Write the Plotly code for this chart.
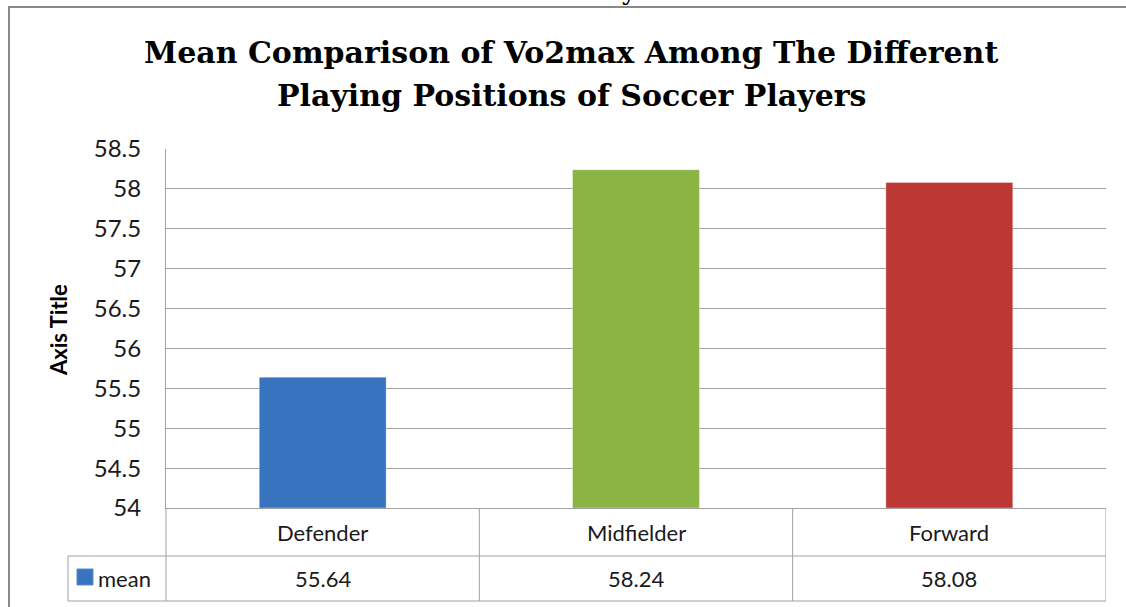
import plotly.graph_objects as go

# ---- data ----
categories = ["Defender", "Midfielder", "Forward"]
mean_values = [55.64, 58.24, 58.08]
series_name = "mean"
y_tick_values = [54, 54.5, 55, 55.5, 56, 56.5, 57, 57.5, 58, 58.5]
y_tick_labels = ["54", "54.5", "55", "55.5", "56", "56.5", "57", "57.5", "58", "58.5"]
title_line1 = "Mean Comparison of Vo2max Among The Different"
title_line2 = "Playing Positions of Soccer Players"
cut_title = "Soccer Players"
axis_title = "Axis Title"

bar_colors = ["#3873C0", "#8BB444", "#BD3735"]

# ---- layout geometry (pixels) ----
FIG_W, FIG_H = 1126, 607
L, R, T, B = 166, 1106, 149, 508
W, H = R - L, B - T


def px(x):
    return (x - L) / W


def py(y):
    return (B - y) / H


LINE = "#A0A0A0"
TXT = "#1A1A1A"
FONT = "Lato"

fig = go.Figure()
fig.add_trace(go.Bar(
    x=categories,
    y=[v - 54 for v in mean_values],
    base=54,
    width=0.405,
    marker=dict(color=bar_colors, line=dict(color="rgba(255,255,255,0.35)", width=1)),
    name=series_name,
    hoverinfo="x+text",
    text=[f"{v:.2f}" for v in mean_values],
    textposition="none",
    showlegend=False,
))

shapes = []
# table lines
for yy in (556, 601):
    shapes.append(dict(type="line", xref="paper", yref="paper",
                       x0=px(68), x1=px(R), y0=py(yy), y1=py(yy),
                       line=dict(color=LINE, width=1)))
shapes.append(dict(type="line", xref="paper", yref="paper",
                   x0=px(68), x1=px(68), y0=py(556), y1=py(601),
                   line=dict(color=LINE, width=1)))
shapes.append(dict(type="line", xref="paper", yref="paper",
                   x0=0, x1=0, y0=py(B), y1=py(601),
                   line=dict(color=LINE, width=1)))
for i in range(len(categories)):
    shapes.append(dict(type="line", xref="x", yref="paper",
                       x0=i + 0.5, x1=i + 0.5, y0=py(B), y1=py(601),
                       line=dict(color=LINE, width=1)))
# legend key
shapes.append(dict(type="rect", xref="paper", yref="paper",
                   x0=px(77), x1=px(93), y0=py(569), y1=py(585),
                   fillcolor=bar_colors[0], line=dict(color="#5B8BCF", width=1)))
# outer chart border (top and left)
shapes.append(dict(type="line", xref="paper", yref="paper",
                   x0=px(8), x1=px(1130), y0=py(7), y1=py(7),
                   line=dict(color="#898989", width=2)))
shapes.append(dict(type="line", xref="paper", yref="paper",
                   x0=px(9), x1=px(9), y0=py(7), y1=py(612),
                   line=dict(color="#898989", width=2)))

annotations = []
for c, v in zip(categories, mean_values):
    annotations.append(dict(x=c, xref="x", y=py(532), yref="paper", text=c,
                            showarrow=False, xanchor="center", yanchor="middle",
                            font=dict(family=FONT, size=22, color=TXT)))
    annotations.append(dict(x=c, xref="x", y=py(578), yref="paper", text=f"{v:.2f}",
                            showarrow=False, xanchor="center", yanchor="middle",
                            font=dict(family=FONT, size=22, color=TXT)))
annotations.append(dict(x=px(96), xref="paper", y=py(578), yref="paper", text=series_name,
                        showarrow=False, xanchor="left", yanchor="middle",
                        font=dict(family=FONT, size=22, color=TXT)))
annotations.append(dict(x=px(58), xref="paper", y=py(330), yref="paper", text=f"<b>{axis_title}</b>",
                        showarrow=False, xanchor="center", yanchor="middle", textangle=-90,
                        font=dict(family=FONT, size=22, color="#000000")))
annotations.append(dict(x=px(571), xref="paper", y=py(52), yref="paper", text=f"<b>{title_line1}</b>",
                        showarrow=False, xanchor="center", yanchor="middle",
                        font=dict(family="DejaVu Serif", size=30, color="#000000")))
annotations.append(dict(x=px(571), xref="paper", y=py(95), yref="paper", text=f"<b>{title_line2}</b>",
                        showarrow=False, xanchor="center", yanchor="middle",
                        font=dict(family="DejaVu Serif", size=30, color="#000000")))
annotations.append(dict(x=px(580), xref="paper", y=py(8), yref="paper", text=cut_title,
                        showarrow=False, xanchor="center", yanchor="bottom",
                        font=dict(family="DejaVu Serif", size=26, color="#000000")))

fig.update_layout(
    width=FIG_W, height=FIG_H,
    margin=dict(l=L, r=FIG_W - R, t=T, b=FIG_H - B, pad=0),
    paper_bgcolor="white", plot_bgcolor="white",
    bargap=0.595,
    shapes=shapes, annotations=annotations,
    xaxis=dict(range=[-0.5, 2.5], showticklabels=False, ticks="", showgrid=False,
               showline=True, linecolor=LINE, linewidth=1, zeroline=False, fixedrange=True),
    yaxis=dict(range=[54, 58.5], tickvals=y_tick_values, ticktext=y_tick_labels,
               showgrid=True, gridcolor=LINE, gridwidth=1, showline=True,
               linecolor=LINE, linewidth=1, ticks="", zeroline=False,
               ticklabelstandoff=19,
               tickfont=dict(family=FONT, size=24, color=TXT), fixedrange=True),
    font=dict(family=FONT),
)

fig.write_html("out.html")
